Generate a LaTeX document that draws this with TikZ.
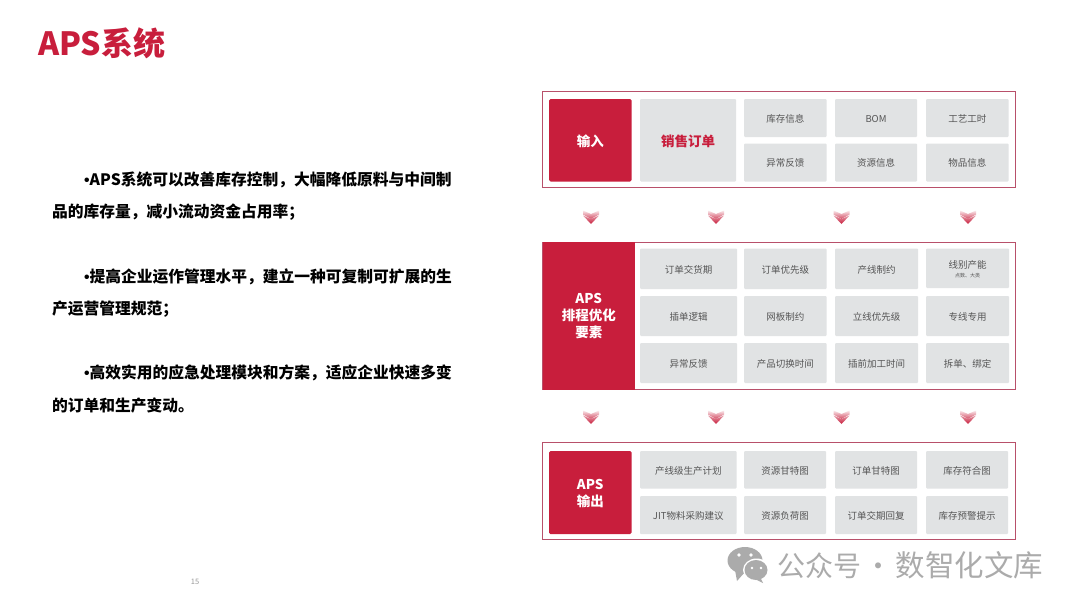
\documentclass[tikz,border=0pt]{standalone}
\usepackage{fontspec}
\setmainfont{Noto Sans CJK SC}
\newfontfamily\bulletfont{Liberation Sans}
\definecolor{apsred}{HTML}{C81E3C}
\definecolor{cellgray}{HTML}{E1E3E4}
\definecolor{framered}{HTML}{B8506A}
\definecolor{celltext}{HTML}{555555}
\definecolor{wmgray}{HTML}{ABABAB}
\tikzset{
  x=1pt,y=-1pt,
  frame/.style={draw=framered,line width=1pt,fill=white},
  cell/.style={fill=cellgray,rounded corners=1pt,text=celltext,font=\fontsize{9.5}{11}\selectfont,align=center},
  redcell/.style={fill=apsred,text=white,font=\fontsize{13.5}{17}\selectfont\bfseries,align=center},
  bodyline/.style={anchor=west,inner sep=0pt,text=black,font=\fontsize{15.75}{18}\selectfont\bfseries},
}
\newcommand{\boxcell}[7]{\path[#1] (#2,#3) rectangle (#4,#5) node[midway,draw=none,fill=none,yshift=-0.8pt] (#6) {#7};}
\newcommand{\bulletmark}{{\bulletfont •}}
\newcommand{\chevrons}[2]{%
  \begin{scope}[shift={(#1,#2)}]
    \shade[top color=apsred!10!white,bottom color=apsred!80!white]
      (-8,-6.5) -- (0,-3) -- (8,-6.5) -- (8,-2.5) -- (0,2) -- (-8,-2.5) -- cycle;
    \shade[top color=apsred!45!white,bottom color=apsred]
      (-8,-1.5) -- (0,2) -- (8,-1.5) -- (0,7) -- cycle;
  \end{scope}}
\begin{document}
\begin{tikzpicture}
\useasboundingbox (0,0) rectangle (1080,608);
\fill[white] (0,0) rectangle (1080,608);
\node[anchor=west,inner sep=0pt,text=apsred,font=\fontsize{32}{34}\selectfont\bfseries] (title) at (38,43.5) {APS系统};
\node[bodyline] (t1) at (84,179.8) {\bulletmark APS系统可以改善库存控制，大幅降低原料与中间制};
\node[bodyline] (t2) at (52,211.8) {品的库存量，减小流动资金占用率；};
\node[bodyline] (t3) at (84,276.8) {\bulletmark 提高企业运作管理水平，建立一种可复制可扩展的生};
\node[bodyline] (t4) at (52,308.8) {产运营管理规范；};
\node[bodyline] (t5) at (84,372.8) {\bulletmark 高效实用的应急处理模块和方案，适应企业快速多变};
\node[bodyline] (t6) at (52,405.8) {的订单和生产变动。};
\node[text=gray!80,font=\fontsize{7.5}{9}\selectfont] (pg) at (195,582) {15};
% input
\draw[frame] (542.5,91) rectangle (1015,187.5);
\boxcell{redcell,rounded corners=1.5pt}{549}{99}{631.5}{181.5}{in0}{输入}
\boxcell{cell}{640}{99}{736}{181.5}{in1}{\textcolor{apsred}{\fontsize{13.5}{16}\selectfont\bfseries 销售订单}}
\boxcell{cell}{744}{99}{826.5}{137}{in2}{库存信息}
\boxcell{cell}{835}{99}{917}{137}{in3}{BOM}
\boxcell{cell}{926}{99}{1008.5}{137}{in4}{工艺工时}
\boxcell{cell}{744}{143.5}{826.5}{181.5}{in5}{异常反馈}
\boxcell{cell}{835}{143.5}{917}{181.5}{in6}{资源信息}
\boxcell{cell}{926}{143.5}{1008.5}{181.5}{in7}{物品信息}
\chevrons{591}{217}\chevrons{716}{217}\chevrons{841.5}{217}\chevrons{968}{217}
% optimise
\draw[frame] (542.5,242) rectangle (1015,389);
\boxcell{redcell}{542.5}{241.5}{635}{389.5}{op0}{APS\\排程优化\\要素}
\boxcell{cell}{640}{248.5}{737}{289}{op1}{订单交货期}
\boxcell{cell}{744}{248.5}{826.5}{289}{op2}{订单优先级}
\boxcell{cell}{835}{248.5}{918}{289}{op3}{产线制约}
\boxcell{cell}{926}{248.5}{1009}{288}{op4}{线别产能\\[-1.5pt]{\fontsize{5}{6}\selectfont 点数、大类}}
\boxcell{cell}{640}{296}{737}{336}{op5}{插单逻辑}
\boxcell{cell}{744}{296}{826.5}{336}{op6}{网板制约}
\boxcell{cell}{835}{296}{918}{336}{op7}{立线优先级}
\boxcell{cell}{926}{296}{1009}{336}{op8}{专线专用}
\boxcell{cell}{640}{343}{737}{383}{op9}{异常反馈}
\boxcell{cell}{744}{343}{826.5}{383}{op10}{产品切换时间}
\boxcell{cell}{835}{343}{918}{383}{op11}{插前加工时间}
\boxcell{cell}{926}{343}{1009}{383}{op12}{拆单、绑定}
\chevrons{591}{417}\chevrons{716}{417}\chevrons{841.5}{417}\chevrons{968}{417}
% output
\draw[frame] (542.5,442.5) rectangle (1015,539);
\boxcell{redcell,rounded corners=1.5pt}{549}{451}{631.5}{534}{ou0}{APS\\输出}
\boxcell{cell}{640}{451}{736.5}{488.5}{ou1}{产线级生产计划}
\boxcell{cell}{744}{451}{826}{488.5}{ou2}{资源甘特图}
\boxcell{cell}{835}{451}{917}{488.5}{ou3}{订单甘特图}
\boxcell{cell}{926}{451}{1008}{488.5}{ou4}{库存符合图}
\boxcell{cell}{640}{496}{736.5}{534}{ou5}{JIT物料采购建议}
\boxcell{cell}{744}{496}{826}{534}{ou6}{资源负荷图}
\boxcell{cell}{835}{496}{917}{534}{ou7}{订单交期回复}
\boxcell{cell}{926}{496}{1008}{534}{ou8}{库存预警提示}
% watermark
\begin{scope}
\fill[wmgray] (745,560.5) ellipse (17.5 and 13.5);
\fill[wmgray] (735,570) -- (737,581) -- (745,572) -- cycle;
\fill[white] (756.5,570) ellipse (13.5 and 11.5);
\fill[wmgray] (756,570) ellipse (11.5 and 10);
\fill[wmgray] (760,577) -- (763,583) -- (755,579) -- cycle;
\fill[white] (739,555) circle (1.8) (751,555) circle (1.8) (752,568) circle (1.4) (761,568) circle (1.4);
\end{scope}
\node[anchor=west,inner sep=0pt,text=wmgray,font=\fontsize{28}{30}\selectfont] (wm) at (777,565) {公众号\hspace{-3pt} · \hspace{-3pt}{\fontsize{29.5}{30}\selectfont 数智化文库}};
\end{tikzpicture}
\end{document}
